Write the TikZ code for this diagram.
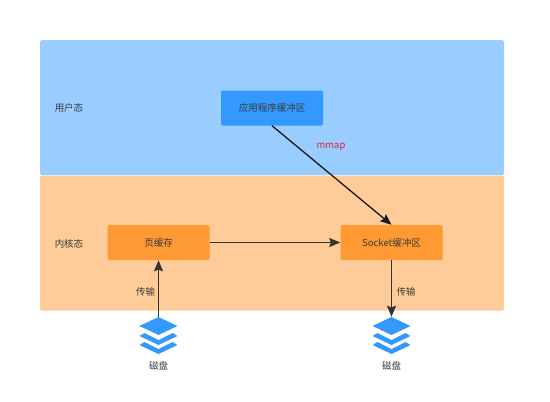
\documentclass[tikz,border=0pt]{standalone}
\usepackage{fontspec}
\setmainfont{Noto Sans CJK SC}
\usepackage{xcolor}
\usetikzlibrary{arrows.meta,positioning,calc}
\definecolor{userblue}{HTML}{99CCFF}
\definecolor{kernelorange}{HTML}{FFCC99}
\definecolor{boxblue}{HTML}{3399FF}
\definecolor{boxorange}{HTML}{FF9933}
\definecolor{labelgray}{HTML}{3A3A3A}
\definecolor{mmapred}{HTML}{E0203F}
\tikzset{
  layerbox/.style={fill=#1, rounded corners=1.5pt, minimum width=464pt, minimum height=135pt, inner sep=0pt},
  bufbox/.style={fill=#1, rounded corners=1.5pt, minimum width=102pt, minimum height=35pt, inner sep=0pt, text=labelgray, font=\fontsize{9.5}{11}\selectfont},
  lbl/.style={text=labelgray, font=\fontsize{9.5}{11}\selectfont, inner sep=0pt},
  link/.style={-{Stealth[length=11pt,width=9pt,inset=1.5pt]}, draw=black!80, line width=1.3pt},
  diskicon/.style={minimum width=36pt, minimum height=38pt, inner sep=0pt},
}
\newcommand{\diskstack}[1]{
  % top slab, then the two chevrons below it
  \fill[boxblue] ($(#1)+(0,-1)$) -- ($(#1)+(19,-10)$) -- ($(#1)+(0,-19)$) -- ($(#1)+(-19,-10)$) -- cycle;
  \fill[boxblue] ($(#1)+(-19,0)$) -- ($(#1)+(-14,-3)$) -- ($(#1)+(0,4)$) -- ($(#1)+(14,-3)$) -- ($(#1)+(19,0)$) -- ($(#1)+(0,9)$) -- cycle;
  \fill[boxblue] ($(#1)+(-19,9)$) -- ($(#1)+(-14,6)$) -- ($(#1)+(0,13)$) -- ($(#1)+(14,6)$) -- ($(#1)+(19,9)$) -- ($(#1)+(0,18)$) -- cycle;
}
\begin{document}
\begin{tikzpicture}[x=1pt, y=-1pt, >=Stealth]
  \useasboundingbox[fill=white] (0,0) rectangle (550,402);

  % Layers
  \node[layerbox=userblue] (user) at (272,107.5) {};
  \node[layerbox=kernelorange] (kernel) at (272,243) {};
  \node[lbl] (userlbl) at (69,108) {用户态};
  \node[lbl] (kernellbl) at (69,243.5) {内核态};

  % Buffers
  \node[bufbox=boxblue] (appbuf) at (272,108) {应用程序缓冲区};
  \node[bufbox=boxorange] (pagecache) at (158.5,242.5) {页缓存};
  \node[bufbox=boxorange] (sockbuf) at (391.5,242.5) {Socket缓冲区};

  % Disks
  \node[diskicon] (diskl) at (158.5,336) {};
  \node[diskicon] (diskr) at (391.5,336) {};
  \diskstack{diskl}
  \diskstack{diskr}
  \node[lbl, below=6.5pt of diskl] (diskllbl) {磁盘};
  \node[lbl, below=6.5pt of diskr] (diskrlbl) {磁盘};

  % Connectors
  \draw[link, draw=black!90] (appbuf.south) -- (sockbuf.north);
  \draw[link] (pagecache) -- (sockbuf);
  \draw[link] (diskl.north) -- (pagecache.south);
  \draw[link] (sockbuf.south) -- (diskr.north);

  % Labels
  \node[lbl, text=mmapred] (mmaplbl) at (331,147) {mmap};
  \node[lbl] (readlbl) at (145.5,292) {传输};
  \node[lbl] (writelbl) at (406,292) {传输};
\end{tikzpicture}
\end{document}
